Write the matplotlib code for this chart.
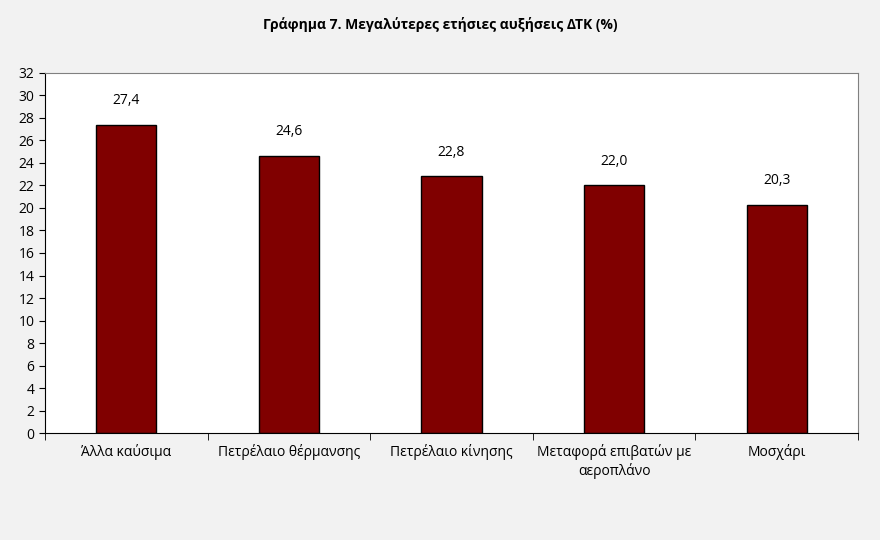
import matplotlib.pyplot as plt
import numpy as np

categories = ["Άλλα καύσιμα", "Πετρέλαιο θέρμανσης", "Πετρέλαιο κίνησης",
              "Μεταφορά επιβατών με\nαεροπλάνο", "Μοσχάρι"]
values = [27.4, 24.6, 22.8, 22.0, 20.3]
labels = ["27,4", "24,6", "22,8", "22,0", "20,3"]

plt.rcParams['font.family'] = ['Open Sans', 'DejaVu Sans']
fig = plt.figure(figsize=(8.8, 5.4), dpi=100, facecolor='#f2f2f2')
ax = fig.add_axes([0.051, 0.198, 0.924, 0.667])
x = np.arange(len(categories))
ax.bar(x, values, width=0.37, color='#800000', edgecolor='black', linewidth=1)
for xi, v, t in zip(x, values, labels):
    ax.text(xi, v + 1.5, t, ha='center', va='bottom', fontsize=10)
ax.set_xlim(-0.5, len(categories) - 0.5)
ax.set_ylim(0, 32)
ax.set_yticks(range(0, 33, 2))
ax.set_xticks(x)
ax.set_xticklabels(categories, fontsize=10, va='top')
ax.set_xticks(np.arange(-0.5, len(categories), 1), minor=True)
ax.tick_params(axis='x', which='major', length=0, pad=8)
ax.tick_params(axis='x', which='minor', length=5, direction='out')
ax.tick_params(axis='y', labelsize=10, length=4, direction='out')
for s in ax.spines.values():
    s.set_color('#808080')
ax.spines['left'].set_color('black')
ax.spines['bottom'].set_color('black')
fig.text(0.5, 0.955, "Γράφημα 7. Μεγαλύτερες ετήσιες αυξήσεις ΔΤΚ (%)",
         ha='center', va='center', fontsize=10, fontweight='bold')
fig.savefig('out.png', dpi=100, facecolor=fig.get_facecolor())
